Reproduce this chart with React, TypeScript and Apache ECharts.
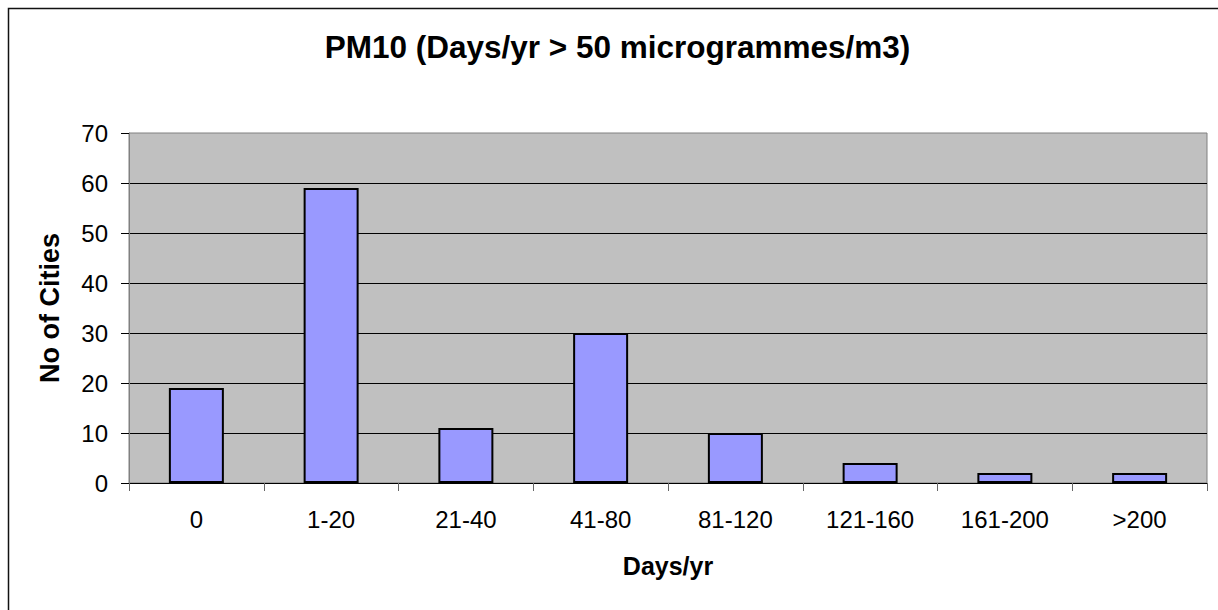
import React, { useEffect, useRef } from "react";
import * as echarts from "echarts";

const categories = ["0", "1-20", "21-40", "41-80", "81-120", "121-160", "161-200", ">200"];
const cityCounts = [19, 59, 11, 30, 10, 4, 2, 2];
const titleText = "PM10 (Days/yr > 50 microgrammes/m3)";
const xName = "Days/yr";
const yName = "No of Cities";

export default function App() {
  const ref = useRef<HTMLDivElement>(null);
  useEffect(() => {
    document.body.style.margin = "0";
    const chart = echarts.init(ref.current!, null, { renderer: "svg" });
    const font = "Liberation Sans, Arial, sans-serif";
    chart.setOption({
      animation: false,
      backgroundColor: "#ffffff",
      graphic: [
        {
          type: "rect",
          shape: { x: 8.5, y: 8.5, width: 1260, height: 660 },
          style: { fill: "none", stroke: "#111", lineWidth: 1.5 },
          silent: true,
          z: 100,
        },
        {
          type: "text",
          x: 617.5,
          y: 47,
          style: {
            text: titleText,
            font: `bold 31.5px ${font}`,
            fill: "#000",
            textAlign: "center",
            textVerticalAlign: "middle",
          },
        },
      ],
      grid: {
        left: 129,
        top: 133,
        right: 11,
        bottom: 127,
        show: true,
        backgroundColor: "#C0C0C0",
        borderColor: "#808080",
        borderWidth: 1,
      },
      xAxis: {
        type: "category",
        data: categories,
        name: xName,
        nameLocation: "middle",
        nameGap: 70,
        nameTextStyle: { fontFamily: font, fontSize: 25, fontWeight: "bold", color: "#000" },
        axisLine: { show: true, lineStyle: { color: "#000", width: 1 } },
        axisTick: { show: true, length: 8, inside: false, lineStyle: { color: "#666" } },
        axisLabel: { fontFamily: font, fontSize: 24, color: "#000", margin: 24 },
        splitLine: { show: false },
      },
      yAxis: {
        type: "value",
        min: 0,
        max: 70,
        interval: 10,
        name: yName,
        nameLocation: "middle",
        nameGap: 66,
        nameTextStyle: { fontFamily: font, fontSize: 27, fontWeight: "bold", color: "#000" },
        axisLine: { show: true, lineStyle: { color: "#808080", width: 1 } },
        axisTick: { show: true, length: 8, inside: false, lineStyle: { color: "#000" } },
        axisLabel: { fontFamily: font, fontSize: 24, color: "#000", margin: 21 },
        splitLine: { show: true, showMaxLine: false, lineStyle: { color: "#000", width: 1 } },
      },
      series: [
        {
          type: "bar",
          data: cityCounts,
          barWidth: 55,
          itemStyle: { color: "#9999FF", borderColor: "#000", borderWidth: 2 },
        },
      ],
    });
    return () => chart.dispose();
  }, []);
  return <div ref={ref} style={{ width: 1218, height: 610, overflow: "hidden" }} />;
}
